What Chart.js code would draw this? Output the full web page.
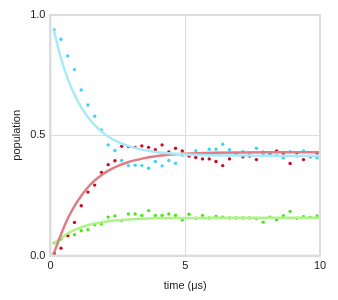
<!DOCTYPE html>
<html>
<head>
<meta charset="utf-8">
<script src="https://cdn.jsdelivr.net/npm/chart.js@4/dist/chart.umd.min.js"></script>
<style>
  html, body { margin: 0; padding: 0; background: #fff; }
  #wrap { width: 338px; height: 300px; }
</style>
</head>
<body>
<div id="wrap"><canvas id="popChart"></canvas></div>
<script>
// measured points (time in us)
var times = [
    0.14, 0.39, 0.64, 0.89, 1.14, 1.39, 1.64, 1.89, 2.14, 2.39,
    2.64, 2.89, 3.14, 3.39, 3.64, 3.89, 4.14, 4.39, 4.64, 4.89,
    5.14, 5.39, 5.64, 5.89, 6.14, 6.39, 6.64, 6.89, 7.14, 7.39,
    7.64, 7.89, 8.14, 8.39, 8.64, 8.89, 9.14, 9.39, 9.64, 9.89
];
var cyanPts = [
    0.938, 0.899, 0.830, 0.773, 0.688, 0.626, 0.579, 0.522, 0.460, 0.437,
    0.395, 0.374, 0.376, 0.374, 0.363, 0.391, 0.373, 0.395, 0.384, 0.418,
    0.420, 0.436, 0.425, 0.442, 0.442, 0.463, 0.440, 0.421, 0.432, 0.426,
    0.446, 0.420, 0.418, 0.416, 0.406, 0.432, 0.414, 0.435, 0.411, 0.406
];
var redPts = [
    0.010, 0.031, 0.083, 0.138, 0.207, 0.264, 0.293, 0.346, 0.378, 0.394,
    0.454, 0.453, 0.450, 0.456, 0.450, 0.440, 0.460, 0.431, 0.446, 0.435,
    0.414, 0.408, 0.402, 0.402, 0.391, 0.374, 0.402, 0.425, 0.411, 0.414,
    0.399, 0.430, 0.421, 0.435, 0.425, 0.383, 0.427, 0.399, 0.411, 0.426
];
var greenPts = [
    0.053, 0.069, 0.084, 0.087, 0.103, 0.108, 0.128, 0.132, 0.160, 0.165,
    0.146, 0.173, 0.173, 0.167, 0.187, 0.167, 0.167, 0.173, 0.167, 0.148,
    0.172, 0.155, 0.167, 0.156, 0.163, 0.160, 0.156, 0.156, 0.156, 0.156,
    0.154, 0.139, 0.160, 0.149, 0.166, 0.184, 0.155, 0.162, 0.159, 0.165
];

// fitted curves
var fitTimes = [0.12, 0.4, 0.65, 0.9, 1.15, 1.4, 1.65, 1.9, 2.15, 2.4, 2.9, 3.4, 3.9, 4.4, 5, 6, 7, 8, 9, 10];
var cyanFit  = [0.938, 0.815, 0.732, 0.667, 0.615, 0.574, 0.541, 0.515, 0.494, 0.478, 0.455, 0.440, 0.431, 0.425, 0.420, 0.417, 0.416, 0.415, 0.415, 0.415];
var redFit   = [0.008, 0.091, 0.156, 0.208, 0.250, 0.285, 0.313, 0.335, 0.353, 0.368, 0.389, 0.403, 0.413, 0.419, 0.423, 0.427, 0.429, 0.430, 0.430, 0.430];
var greenFit = [0.050, 0.074, 0.093, 0.107, 0.118, 0.127, 0.134, 0.139, 0.143, 0.146, 0.150, 0.153, 0.155, 0.156, 0.156, 0.157, 0.157, 0.157, 0.157, 0.157];

var xTicks = [0, 5, 10];
var yTicks = [0, 0.5, 1];

function pairs(xs, ys) {
    return xs.map(function (x, i) { return { x: x, y: ys[i] }; });
}

function fitSet(ys, color) {
    return {
        type: 'line',
        data: pairs(fitTimes, ys),
        borderColor: color,
        borderWidth: 2.5,
        pointRadius: 0,
        cubicInterpolationMode: 'monotone',
        fill: false
    };
}

function ptSet(ys, color) {
    return {
        type: 'scatter',
        data: pairs(times, ys),
        backgroundColor: color,
        borderWidth: 0,
        pointRadius: 1.7,
        pointHoverRadius: 1.7
    };
}

var font = { family: 'Liberation Sans, Arial, sans-serif', size: 11 };

var el = document.getElementById('popChart').getContext('2d');
var popChart = new Chart(el, {
    data: {
        datasets: [
            fitSet(cyanFit, '#a9e9f9'),
            fitSet(redFit, '#e07c86'),
            fitSet(greenFit, '#aef28a'),
            ptSet(cyanPts, '#3fd2f7'),
            ptSet(redPts, '#cc0a24'),
            ptSet(greenPts, '#4be61a')
        ]
    },
    options: {
        responsive: true,
        maintainAspectRatio: false,
        animation: false,
        layout: { padding: { top: 15, right: 18, left: 10, bottom: 7 } },
        plugins: { legend: { display: false }, tooltip: { enabled: false } },
        scales: {
            x: {
                type: 'linear',
                min: 0,
                max: 10,
                afterBuildTicks: function (axis) {
                    axis.ticks = xTicks.map(function (v) { return { value: v }; });
                },
                grid: { color: '#dcdcdc', lineWidth: 1, drawTicks: false },
                border: { color: '#dcdcdc', width: 2 },
                ticks: { color: '#222', font: font, padding: 4, maxRotation: 0 },
                title: { display: true, text: 'time (\u03bcs)', color: '#222', font: font, padding: { top: 3, bottom: 0 } }
            },
            y: {
                type: 'linear',
                min: 0,
                max: 1,
                afterBuildTicks: function (axis) {
                    axis.ticks = yTicks.map(function (v) { return { value: v }; });
                },
                grid: { color: '#dcdcdc', lineWidth: 1, drawTicks: false },
                border: { color: '#dcdcdc', width: 2 },
                ticks: {
                    color: '#222', font: font, padding: 5,
                    callback: function (v) { return v.toFixed(1); }
                },
                title: { display: true, text: 'population', color: '#222', font: font, padding: { top: 0, bottom: 2 } }
            }
        }
    },
    plugins: [{
        id: 'frame',
        afterDraw: function (chart) {
            var a = chart.chartArea, c = chart.ctx;
            c.save();
            c.strokeStyle = '#dcdcdc';
            c.lineWidth = 2;
            c.strokeRect(a.left, a.top, a.right - a.left, a.bottom - a.top);
            c.restore();
        }
    }]
});
</script>
</body>
</html>
